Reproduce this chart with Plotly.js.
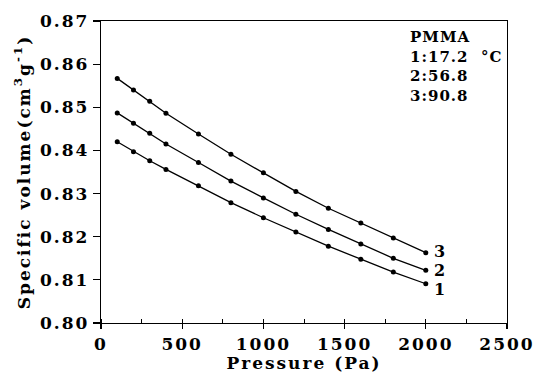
<!DOCTYPE html>
<html>
<head>
<meta charset="utf-8">
<script src="https://cdn.plot.ly/plotly-3.0.1.min.js"></script>
<style>
html,body{margin:0;padding:0;background:#fff;}
#chart{width:534px;height:373px;}
.xtick text, .ytick text { letter-spacing: 2px; }
.xtitle, .ytitle { letter-spacing: 2px; }
.annotation-text { letter-spacing: 1px; }
</style>
</head>
<body>
<div id="chart"></div>
<script>
const pressure = [100, 200, 300, 400, 600, 800, 1000, 1200, 1400, 1600, 1800, 2000];
const v1 = [0.8420, 0.8397, 0.8376, 0.8356, 0.8318, 0.8279, 0.8244, 0.8211, 0.8178, 0.8148, 0.8118, 0.8091];
const v2 = [0.8487, 0.8463, 0.8440, 0.8415, 0.8372, 0.8329, 0.8290, 0.8252, 0.8217, 0.8183, 0.8150, 0.8122];
const v3 = [0.8567, 0.8540, 0.8514, 0.8486, 0.8438, 0.8391, 0.8348, 0.8305, 0.8266, 0.8232, 0.8197, 0.8163];
const seriesLabels = ['1', '2', '3'];
const legendText = 'PMMA<br>1:17.2\u00a0\u00a0°C<br>2:56.8<br>3:90.8';
const xTitle = 'Pressure (Pa)';
const yTitle = 'Specific volume(cm<sup>3</sup>g<sup>-1</sup>)';

const FONT = 'DejaVu Serif, serif';
const series = [v1, v2, v3];
const traces = series.map(v => ({
  x: pressure, y: v, type: 'scatter', mode: 'lines+markers',
  line: {color: '#000', width: 1.3},
  marker: {color: '#000', size: 5},
  showlegend: false, hoverinfo: 'skip'
}));
const labelShift = [-6, 0, 1];
const annotations = series.map((v, i) => ({
  x: pressure[pressure.length - 1], y: v[v.length - 1], xref: 'x', yref: 'y',
  text: seriesLabels[i], showarrow: false, xanchor: 'left', yanchor: 'middle',
  xshift: 6, yshift: labelShift[i],
  font: {family: FONT, size: 16, color: '#000', weight: 'bold'}
}));
annotations.push({
  xref: 'paper', yref: 'paper', x: 0.757, y: 0.985, xanchor: 'left', yanchor: 'top',
  align: 'left', showarrow: false, text: legendText,
  font: {family: FONT, size: 15, color: '#000', weight: 'bold'}
});

const layout = {
  width: 534, height: 373,
  margin: {l: 101, r: 27, t: 21, b: 50, pad: 0},
  paper_bgcolor: '#fff', plot_bgcolor: '#fff',
  font: {family: FONT, size: 17, color: '#000', weight: 'bold'},
  xaxis: {
    range: [0, 2500], dtick: 500, tick0: 0,
    ticks: 'outside', ticklen: 5, tickwidth: 1.2, tickcolor: '#000',
    minor: {ticks: 'inside', dtick: 250, ticklen: 4, tickwidth: 1, tickcolor: '#000'},
    showgrid: false, zeroline: false, ticklabeloverflow: 'allow',
    showline: true, linecolor: '#000', linewidth: 1.3, mirror: true,
    tickfont: {family: FONT, size: 17, color: '#000', weight: 'bold'},
    title: {text: xTitle, standoff: 2, font: {family: FONT, size: 17, color: '#000', weight: 'bold'}}
  },
  yaxis: {
    range: [0.80, 0.87], dtick: 0.01, tickformat: '.2f',
    ticks: 'outside', ticklen: 7, tickwidth: 1.2, tickcolor: '#000',
    showgrid: false, zeroline: false, ticklabeloverflow: 'allow',
    showline: true, linecolor: '#000', linewidth: 1.3, mirror: true,
    tickfont: {family: FONT, size: 17, color: '#000', weight: 'bold'},
    title: {text: yTitle, standoff: 5, font: {family: FONT, size: 17, color: '#000', weight: 'bold'}}
  },
  annotations: annotations
};
Plotly.newPlot('chart', traces, layout, {staticPlot: true, displayModeBar: false});
</script>
</body>
</html>
